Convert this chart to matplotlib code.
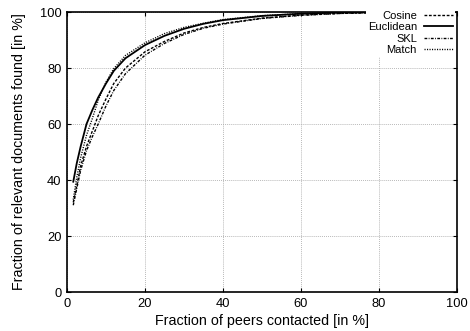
import matplotlib
matplotlib.use("Agg")
import matplotlib.pyplot as plt

plt.rcParams['font.family'] = ['Liberation Sans', 'DejaVu Sans']

# fraction of peers contacted [%]
peers = [1.6, 2.5, 3.5, 5, 6.5, 8, 10, 12, 15, 20, 25, 30, 35, 40, 50, 60, 70, 80, 90, 100]

# fraction of relevant documents found [%]
cosine = [32, 38, 45, 52, 57.5, 63, 69, 74.5, 80, 85.8, 89.5, 92.5, 94.5, 95.9, 97.8, 98.9, 99.5, 99.8, 100, 100]
euclidean = [39.4, 46, 52, 60, 65, 69.5, 74.5, 79, 83.5, 88.2, 91.5, 94, 95.8, 97.1, 98.6, 99.4, 99.8, 100, 100, 100]
skl = [31, 37, 43.5, 50.5, 55.5, 60, 66.5, 72, 78, 84.6, 88.8, 92, 94.2, 95.7, 97.7, 98.8, 99.5, 99.8, 100, 100]
match = [33, 41, 48, 56, 62, 68.5, 75, 79.8, 84.5, 89, 92.3, 94.5, 96, 97.3, 98.7, 99.4, 99.8, 100, 100, 100]

fig = plt.figure(figsize=(4.70, 3.31), dpi=100)
ax = fig.add_axes([0.1426, 0.1178, 0.8297, 0.8459])

ax.plot(peers, cosine, color='black', lw=1.0, dashes=(2, 1.2), label='Cosine')
ax.plot(peers, euclidean, color='black', lw=1.3, label='Euclidean')
ax.plot(peers, skl, color='black', lw=1.0, dashes=(2, 1, 0.6, 1), label='SKL')
ax.plot(peers, match, color='black', lw=1.0, dashes=(0.8, 1.0), label='Match')

ax.set_xlim(0, 100)
ax.set_ylim(0, 100)
ax.set_xticks([0, 20, 40, 60, 80, 100])
ax.set_yticks([0, 20, 40, 60, 80, 100])
ax.tick_params(direction='in', length=3, width=0.8, labelsize=9.3,
               top=True, right=True, pad=4)
ax.grid(True, color='#aaaaaa', linestyle=(0, (0.8, 1.2)), linewidth=0.7)
for s in ax.spines.values():
    s.set_linewidth(1.2)

ax.set_xlabel('Fraction of peers contacted [in %]', fontsize=10.3, labelpad=3)
ax.set_ylabel('Fraction of relevant documents found [in %]', fontsize=10.3, labelpad=10)

leg = ax.legend(loc='upper right', bbox_to_anchor=(1.0, 1.02), markerfirst=False,
                fontsize=8, handlelength=2.6, handletextpad=0.6, labelspacing=0.12,
                borderaxespad=0.2, borderpad=0.2, fancybox=False)
leg.get_frame().set_facecolor('white')
leg.get_frame().set_edgecolor('none')
leg.get_frame().set_alpha(1)
for t in leg.get_texts():
    t.set_ha('right')

fig.savefig('out.png', dpi=100)
